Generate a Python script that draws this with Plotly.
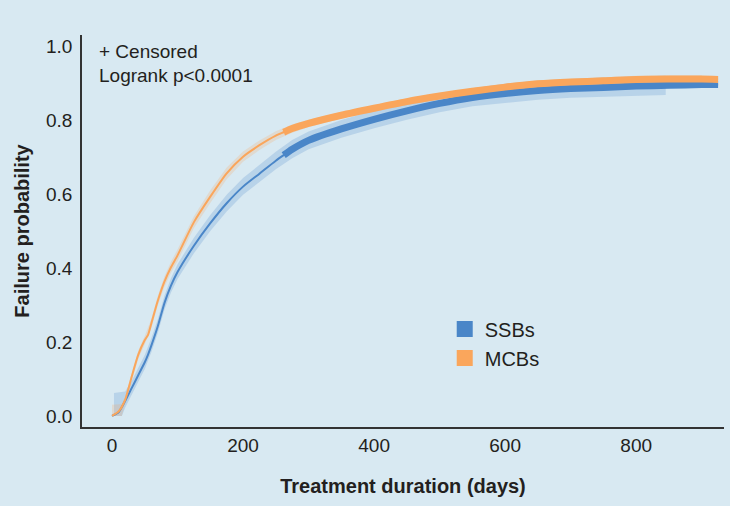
import plotly.graph_objects as go

# ---------------- data ----------------
days = [0, 10, 20, 30, 40, 50, 55, 60, 70, 80, 90, 100, 125, 150, 175, 200,
        225, 250, 262, 275, 300, 350, 400, 450, 500, 550, 600, 650, 700, 750,
        800, 850, 900, 925]

mcb = [0.0, 0.012, 0.043, 0.106, 0.165, 0.205, 0.219, 0.25, 0.312, 0.363,
       0.402, 0.434, 0.524, 0.593, 0.656, 0.701, 0.732, 0.758, 0.767, 0.777,
       0.791, 0.813, 0.832, 0.850, 0.865, 0.878, 0.889, 0.898, 0.903, 0.906,
       0.910, 0.911, 0.911, 0.910]

ssb = [0.0, 0.01, 0.04, 0.075, 0.11, 0.145, 0.166, 0.19, 0.243, 0.305,
       0.352, 0.389, 0.460, 0.521, 0.575, 0.620, 0.655, 0.690, 0.705, 0.721,
       0.745, 0.776, 0.802, 0.825, 0.845, 0.861, 0.872, 0.880, 0.885, 0.888,
       0.892, 0.894, 0.896, 0.896]

# confidence bands
ssb_band_days = [3, 15, 20, 30, 40, 50, 60, 70, 80, 90, 100, 125, 150, 175, 200,
                 225, 250, 275, 300, 350, 400, 450, 500, 550, 600, 650, 700,
                 750, 800, 845]
ssb_hi = [0.062, 0.065, 0.066, 0.095, 0.13, 0.165, 0.21, 0.262, 0.325, 0.372,
          0.41, 0.482, 0.543, 0.598, 0.643, 0.679, 0.714, 0.746, 0.769, 0.800,
          0.826, 0.849, 0.869, 0.886, 0.898, 0.907, 0.912, 0.915, 0.918, 0.92]
ssb_lo = [0.0, 0.0, 0.022, 0.057, 0.092, 0.127, 0.172, 0.225, 0.287, 0.334,
          0.37, 0.44, 0.5, 0.553, 0.598, 0.632, 0.667, 0.697, 0.721, 0.752,
          0.778, 0.801, 0.821, 0.837, 0.847, 0.855, 0.86, 0.863, 0.866, 0.868]

mcb_band_days = [0, 15, 20, 30, 40, 50, 60, 70, 80, 90, 100, 125, 150, 175, 200,
                 225, 250, 275, 300, 350, 400, 450, 500, 550, 600, 650, 700,
                 750, 800, 850, 900]
mcb_hi = [0.03, 0.032, 0.052, 0.116, 0.176, 0.216, 0.262, 0.325, 0.377, 0.417,
          0.45, 0.54, 0.61, 0.672, 0.715, 0.745, 0.77, 0.788, 0.801, 0.822, 0.841,
          0.859, 0.874, 0.887, 0.898, 0.907, 0.912, 0.916, 0.920, 0.921, 0.921]
mcb_lo = [0.0, 0.0, 0.034, 0.096, 0.154, 0.194, 0.238, 0.299, 0.349, 0.387,
          0.418, 0.508, 0.576, 0.64, 0.687, 0.719, 0.746, 0.766, 0.781, 0.804,
          0.823, 0.841, 0.856, 0.869, 0.880, 0.889, 0.894, 0.896, 0.900, 0.901,
          0.901]

censor_start = 262          # dense censoring marks begin here (days)

x_ticks = [0, 200, 400, 600, 800]
y_ticks = [0.0, 0.2, 0.4, 0.6, 0.8, 1.0]

series_names = ["SSBs", "MCBs"]

# ---------------- styles ----------------
BLUE = "rgb(74,134,200)"
ORANGE = "rgb(250,166,92)"
BG = "rgb(216,233,242)"
TXT = "#231f20"
FONT = "Liberation Sans, Arial, Helvetica, sans-serif"

fig = go.Figure()

# bands
fig.add_trace(go.Scatter(x=ssb_band_days, y=ssb_hi, mode="lines",
                         line=dict(width=0), showlegend=False, hoverinfo="skip"))
fig.add_trace(go.Scatter(x=ssb_band_days, y=ssb_lo, mode="lines",
                         line=dict(width=0), fill="tonexty",
                         fillcolor="rgba(74,134,200,0.22)",
                         showlegend=False, hoverinfo="skip"))
fig.add_trace(go.Scatter(x=mcb_band_days, y=mcb_hi, mode="lines",
                         line=dict(width=0), showlegend=False, hoverinfo="skip"))
fig.add_trace(go.Scatter(x=mcb_band_days, y=mcb_lo, mode="lines",
                         line=dict(width=0), fill="tonexty",
                         fillcolor="rgba(250,166,92,0.22)",
                         showlegend=False, hoverinfo="skip"))

for name, vals, col in [(series_names[0], ssb, BLUE), (series_names[1], mcb, ORANGE)]:
    # thin curve
    fig.add_trace(go.Scatter(x=days, y=vals, mode="lines",
                             line=dict(color=col, width=2, shape="spline", smoothing=0.6),
                             showlegend=False, hoverinfo="skip"))
    # dense censor marks -> thick band
    cx = [d for d in days if d >= censor_start]
    cy = [v for d, v in zip(days, vals) if d >= censor_start]
    fig.add_trace(go.Scatter(x=cx, y=cy, mode="lines",
                             line=dict(color=col, width=7, shape="spline", smoothing=0.6),
                             showlegend=False, hoverinfo="skip"))
    # legend entry (square)
    fig.add_trace(go.Scatter(x=[None], y=[None], mode="markers", name=name,
                             marker=dict(symbol="square", size=16, color=col)))

fig.add_annotation(text="+ Censored", xref="paper", yref="paper",
                   x=0.024, y=0.958, xanchor="left", yanchor="middle",
                   showarrow=False, font=dict(size=19, color=TXT, family=FONT))
fig.add_annotation(text="Logrank p<0.0001", xref="paper", yref="paper",
                   x=0.024, y=0.897, xanchor="left", yanchor="middle",
                   showarrow=False, font=dict(size=19, color=TXT, family=FONT))

fig.update_layout(
    width=730, height=506, autosize=False,
    margin=dict(l=82, r=6, t=35, b=79),
    paper_bgcolor=BG, plot_bgcolor=BG,
    font=dict(family=FONT, color=TXT, size=19),
    showlegend=True,
    legend=dict(x=0.565, y=0.300, xanchor="left", yanchor="top",
                traceorder="normal",
                bgcolor="rgba(0,0,0,0)", font=dict(size=20, color=TXT, family=FONT),
                itemwidth=30, tracegroupgap=0),
    xaxis=dict(range=[-45.8, 934], tickvals=x_ticks, showgrid=False, zeroline=False,
               showline=True, linecolor="#333333", linewidth=1.5, ticks="",
               tickfont=dict(size=19, color=TXT),
               title=dict(text="<b>Treatment duration (days)</b>", standoff=24,
                          font=dict(size=20, color=TXT))),
    yaxis=dict(range=[-0.03, 1.03], tickvals=y_ticks, tickformat=".1f",
               showgrid=False, zeroline=False,
               showline=True, linecolor="#333333", linewidth=1.5, ticks="",
               tickfont=dict(size=19, color=TXT), ticklabelstandoff=4,
               title=dict(text="<b>Failure probability</b>", standoff=11,
                          font=dict(size=20, color=TXT))),
)

fig.write_html("out.html",
               config={"displayModeBar": False},
               post_script="document.body.style.margin='0px';document.body.style.background='" + BG + "';")
